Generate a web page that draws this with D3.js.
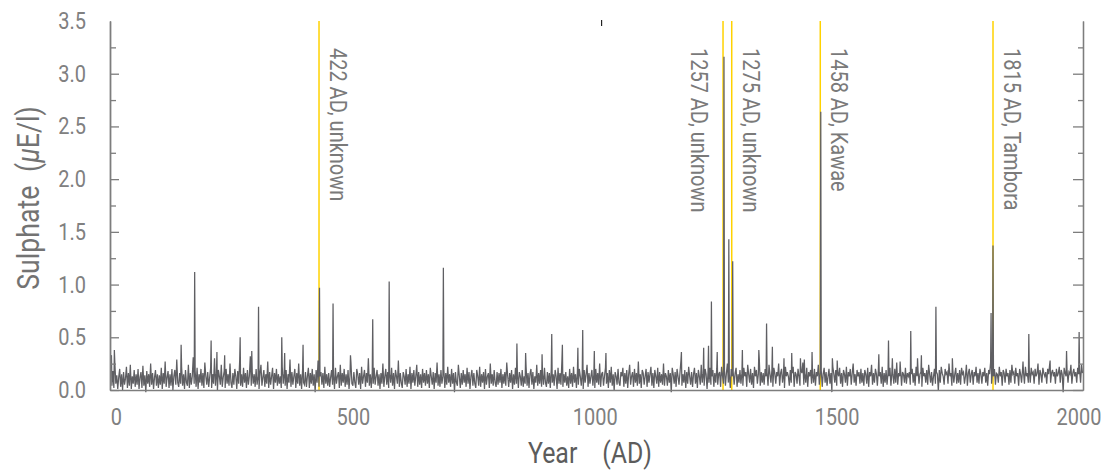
<!DOCTYPE html>
<html>
<head>
<meta charset="utf-8">
<script src="https://cdn.jsdelivr.net/npm/d3@7"></script>
<style>
  html, body { margin: 0; padding: 0; background: #ffffff; }
  svg { display: block; }
  text { font-family: Roboto, "Liberation Sans", sans-serif; }
</style>
</head>
<body>
<svg id="chart" width="1109" height="470"></svg>
<script>
// ---------------- data ----------------
const startYear = -8;
const yearStep = 2;
// background sulphate level, hundredths of µE/l, one value every 2 years from -8 AD
const sulphateBackground = [
  30,4,18,2,26,6,14,1,12,20,3,15,0,17,5,11,22,2,16,4,24,1,13,6,19,
  3,15,5,20,1,12,17,2,23,4,14,-2,18,6,15,3,25,5,16,1,12,19,4,15,2,
  14,5,21,1,16,6,27,3,12,18,2,15,4,20,0,13,19,5,29,7,3,16,6,22,4,
  15,1,19,7,4,24,2,16,5,13,31,6,18,3,21,1,15,7,20,4,16,2,26,13,5,
  17,3,12,21,2,15,6,30,4,16,-1,19,13,5,24,3,12,18,2,20,6,15,4,25,7,
  2,16,5,20,13,1,18,6,28,4,15,3,21,7,16,2,19,5,13,32,4,17,6,15,3,
  20,5,13,1,16,24,4,12,19,3,15,6,27,2,17,5,13,21,1,16,7,20,4,15,6,
  13,2,22,6,16,4,19,1,15,7,29,3,17,5,13,20,2,16,6,25,4,15,1,19,7,
  5,17,3,13,21,2,16,6,20,4,15,-2,19,7,28,3,13,17,5,16,2,22,6,15,4,
  16,3,12,19,5,15,1,21,6,13,17,2,24,4,16,7,20,3,15,5,19,1,13,26,6,
  4,17,7,2,20,15,5,16,1,22,6,13,19,3,16,7,30,4,15,2,17,6,21,5,13,
  19,4,15,1,16,6,25,3,13,20,5,17,2,15,7,21,4,16,1,19,13,6,28,3,16,
  7,2,17,13,5,20,3,15,6,22,1,16,7,19,4,13,24,3,17,5,15,2,20,7,16,
  4,19,6,15,2,21,13,5,17,1,16,7,26,4,15,3,19,6,13,20,2,16,5,22,7,
  15,3,20,6,16,-2,17,7,4,24,13,2,16,5,19,7,15,3,21,6,17,1,13,19,4,
  16,6,2,19,13,4,22,3,15,7,17,1,20,5,13,16,2,25,6,15,4,19,7,3,17,
  5,16,7,20,2,15,6,17,4,26,13,3,16,7,19,1,15,5,21,6,16,2,17,13,4,
  19,3,13,6,22,4,16,2,15,20,5,17,1,13,7,24,4,16,6,19,3,15,5,21,7,
  3,17,6,16,2,20,7,15,4,19,13,1,21,6,16,5,28,3,15,7,17,4,13,2,20,
  6,16,3,22,7,15,2,17,5,20,13,4,16,1,19,7,15,24,3,16,6,13,19,4,15,
  2,20,7,16,5,25,3,15,17,4,13,21,6,16,2,19,7,22,4,15,-1,17,13,5,20,
  7,4,17,13,21,3,16,6,19,2,15,24,5,13,17,3,20,7,16,4,27,6,15,2,19,
  16,5,13,20,3,17,7,15,22,4,16,2,19,13,6,21,3,17,7,15,5,25,4,16,13,
  4,19,7,16,-2,21,15,6,17,3,20,13,5,16,28,4,15,7,19,2,17,6,22,13,5,
  17,3,15,21,6,16,2,19,13,5,24,7,16,4,20,15,1,17,7,21,5,13,19,3,16,
  7,20,5,15,17,3,22,13,6,19,4,16,25,7,15,2,20,13,17,5,16,21,3,15,7,
  19,6,16,4,21,13,17,3,24,15,7,20,5,16,2,22,13,19,6,15,29,4,17,7,16,
  5,20,13,17,4,24,15,7,19,3,21,16,6,17,13,25,4,16,20,7,15,2,22,13,17,
  13,4,19,7,16,22,3,17,15,6,20,13,4,19,16,26,5,15,7,21,3,17,13,19,6,
  16,7,20,4,17,13,24,5,16,19,3,15,21,7,17,4,13,20,6,16,-2,22,15,7,19,
  4,17,13,21,6,16,3,19,15,7,22,4,17,13,20,5,16,25,7,15,4,19,13,17,6,
  20,7,16,4,19,15,6,21,3,17,13,24,5,16,7,20,15,4,19,13,17,6,22,3,16,
  7,19,5,16,13,21,4,17,15,6,20,7,26,5,16,13,19,4,17,15,7,21,6,16,13,
  17,5,15,20,7,16,4,22,13,19,6,15,17,3,21,13,16,7,19,5,24,15,7,17,4,
  13,20,6,17,15,-1,19,7,22,16,13,5,20,15,17,6,25,13,16,4,19,7,15,21,6,
  16,7,19,5,21,15,17,6,13,24,4,16,20,7,15,19,5,17,13,22,7,16,6,20,15,
  6,17,13,21,7,16,4,19,15,26,6,17,13,20,5,16,15,7,22,13,17,4,19,16,7,
  20,13,16,5,19,7,24,15,17,6,21,13,16,4,20,15,7,19,17,6,22,13,16,7,19,
  7,21,15,17,6,20,13,16,25,5,19,15,7,21,16,13,17,6,20,15,24,7,16,19,13,
  17,6,20,13,16,22,7,19,15,-2,21,16,13,19,7,17,15,24,6,16,20,13,17,7,21,
  15,19,7,24,16
];
// individual deposition peaks (µE/l)
const spikeYears  = [-7, -1, 137, 165, 199, 211, 227, 259, 283, 297, 345, 351, 389, 423, 451, 487, 533, 567, 679,
  831, 849, 883, 903, 925, 957, 967, 991, 1015, 1171, 1217, 1227, 1233, 1245, 1259, 1269, 1277, 1297, 1331, 1347,
  1359, 1383, 1399, 1417, 1425, 1441, 1459, 1483, 1493, 1579, 1599, 1607, 1623, 1645, 1659, 1667, 1697, 1731,
  1811, 1815, 1877, 1889, 1933, 1967, 1993];
const spikeValues = [0.33, 0.38, 0.43, 1.12, 0.47, 0.36, 0.33, 0.50, 0.37, 0.79, 0.50, 0.35, 0.43, 0.97, 0.82, 0.33, 0.67, 1.03, 1.16,
  0.44, 0.35, 0.34, 0.53, 0.43, 0.40, 0.57, 0.37, 0.35, 0.36, 0.40, 0.42, 0.84, 0.36, 3.16, 1.43, 1.22, 0.38, 0.38, 0.63,
  0.41, 0.30, 0.35, 0.30, 0.29, 0.36, 2.64, 0.30, 0.28, 0.34, 0.47, 0.30, 0.27, 0.56, 0.30, 0.33, 0.79, 0.30,
  0.73, 1.37, 0.27, 0.53, 0.28, 0.37, 0.55];

const eventYears  = [422, 1257, 1275, 1458, 1815];
const eventLabels = ["422 AD, unknown", "1257 AD, unknown", "1275 AD, unknown", "1458 AD, Kawae", "1815 AD, Tambora"];
const eventSides  = ["right", "left", "right", "right", "right"];

const xTicks = [0, 500, 1000, 1500, 2000];
const yTicks = [0, 0.5, 1.0, 1.5, 2.0, 2.5, 3.0, 3.5];
const yMinorTicks = [0.25, 0.75, 1.25, 1.75, 2.25, 2.75, 3.25];
const topMarkYears = [1006];

// ---------------- layout ----------------
const svg = d3.select("#chart");
const plotLeft = 110, plotRight = 1083, plotTop = 21, plotBottom = 390;
const x = d3.scaleLinear().domain([-10, 2001]).range([plotLeft, plotRight]);
const y = d3.scaleLinear().domain([0, 3.5]).range([plotBottom, plotTop]);

const axisColor = "#7d7d7d";
const textColor = "#808080";
const narrow = 0.85;

function condense(sel, f) {
  sel.each(function () {
    const L = this.getComputedTextLength();
    d3.select(this).attr("textLength", L * f).attr("lengthAdjust", "spacingAndGlyphs");
  });
}

// event lines
svg.append("g").selectAll("line").data(eventYears).join("line")
  .attr("x1", d => x(d)).attr("x2", d => x(d))
  .attr("y1", y(3.5)).attr("y2", y(0))
  .attr("stroke", "#ffd200").attr("stroke-width", 1.5);

// series
const points = sulphateBackground.map((v, i) => ({ year: startYear + i * yearStep, value: v / 100 }))
  .concat(spikeYears.map((yr, i) => ({ year: yr, value: spikeValues[i] })))
  .sort((a, b) => a.year - b.year);

const line = d3.line().x(d => x(d.year)).y(d => y(d.value));
svg.append("path").datum(points)
  .attr("d", line)
  .attr("fill", "none")
  .attr("stroke", "#5f5f63")
  .attr("stroke-width", 1.25)
  .attr("stroke-linejoin", "miter");

// event labels
svg.append("g").selectAll("text").data(eventYears).join("text")
  .attr("transform", (d, i) => `translate(${x(d) + (eventSides[i] === "right" ? 11 : -32)},48) rotate(90) scale(${narrow},1)`)
  .attr("text-anchor", "start")
  .attr("font-size", 23.5)
  .attr("fill", "#7a7a7a")
  .text((d, i) => eventLabels[i]);

// axes
function styleAxis(g) {
  g.selectAll(".domain").attr("stroke", axisColor).attr("stroke-width", 1.3);
  g.selectAll(".tick line").attr("stroke", axisColor).attr("stroke-width", 1.3);
  g.selectAll(".tick text").attr("fill", textColor).attr("font-size", 23.5)
    .attr("font-family", 'Roboto, "Liberation Sans", sans-serif')
    .call(condense, narrow);
}

svg.append("g").attr("transform", `translate(${plotLeft},0)`)
  .call(d3.axisLeft(y).tickValues(yTicks.filter(t => t < 3.5)).tickFormat(d3.format(".1f")).tickSizeInner(-9).tickSizeOuter(0).tickPadding(24))
  .call(styleAxis);
svg.append("g").attr("transform", `translate(${plotLeft},0)`)
  .call(d3.axisLeft(y).tickValues([3.5]).tickFormat(d3.format(".1f")).tickSize(0).tickPadding(24))
  .call(styleAxis);
svg.append("g").attr("transform", `translate(${plotLeft},0)`)
  .call(d3.axisLeft(y).tickValues(yMinorTicks).tickFormat("").tickSizeInner(-6).tickSizeOuter(0))
  .call(styleAxis);

svg.append("g").attr("transform", `translate(${plotRight},0)`)
  .call(d3.axisRight(y).tickValues(yTicks.filter(t => t < 3.5)).tickFormat("").tickSizeInner(-10).tickSizeOuter(0))
  .call(styleAxis);
svg.append("g").attr("transform", `translate(${plotRight},0)`)
  .call(d3.axisRight(y).tickValues(yMinorTicks).tickFormat("").tickSizeInner(-5).tickSizeOuter(0))
  .call(styleAxis);

svg.append("g").attr("transform", `translate(0,${plotBottom})`)
  .call(d3.axisBottom(x).tickValues(xTicks).tickFormat(d3.format("d")).tickSizeInner(0).tickSizeOuter(0).tickPadding(18))
  .call(styleAxis)
  .call(g => g.selectAll(".tick text").attr("dx", d => d === 0 ? 1 : -4));

// stray top mark
svg.append("g").selectAll("line").data(topMarkYears).join("line")
  .attr("x1", d => x(d)).attr("x2", d => x(d))
  .attr("y1", 20).attr("y2", 26)
  .attr("stroke", "#222").attr("stroke-width", 1.2);

// axis titles
const xt = svg.append("text")
  .attr("transform", "translate(590,463) scale(0.83,1)")
  .attr("text-anchor", "middle")
  .attr("font-size", 30)
  .attr("fill", "#5c5c5c");
xt.append("tspan").text("Year");
xt.append("tspan").attr("dx", 30).text("(AD)");

const yt = svg.append("text")
  .attr("transform", "translate(39,198) rotate(-90) scale(0.86,1)")
  .attr("text-anchor", "middle")
  .attr("font-size", 31)
  .attr("fill", "#737373");
yt.append("tspan").text("Sulphate");
yt.append("tspan").attr("dx", 16).text("(");
yt.append("tspan").attr("font-style", "italic").text("μ");
yt.append("tspan").text("E/l)");
</script>
</body>
</html>
